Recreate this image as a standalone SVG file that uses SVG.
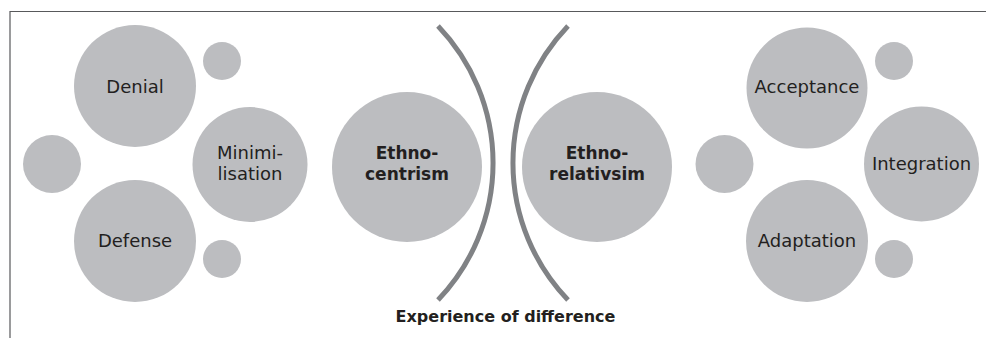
<svg xmlns="http://www.w3.org/2000/svg" width="986" height="338" viewBox="0 0 986 338">
<style>
.c{fill:#bcbdc0}
.t{font-family:"DejaVu Sans",sans-serif;font-size:18px;fill:#231f20;text-anchor:middle}
.b{font-family:"DejaVu Sans",sans-serif;font-weight:bold;font-size:17px;fill:#231f20;text-anchor:middle}
.arc{fill:none;stroke:#808285;stroke-width:5}
</style>
<rect width="986" height="338" fill="#fff"/>
<path d="M10 338 V11.5 H986" fill="none" stroke="#58595b" stroke-width="1.2"/>
<g id="denial"><circle class="c" cx="135" cy="86" r="61"/><text class="t" x="135" y="93">Denial</text></g>
<g id="dot-l1"><circle class="c" cx="222" cy="61" r="19"/></g>
<g id="dot-l2"><circle class="c" cx="52" cy="164" r="29"/></g>
<g id="minimilisation"><circle class="c" cx="250" cy="164.5" r="57.5"/><text class="t" x="250" y="159">Minimi-</text><text class="t" x="250" y="180">lisation</text></g>
<g id="defense"><circle class="c" cx="135" cy="241" r="61"/><text class="t" x="135" y="247">Defense</text></g>
<g id="dot-l3"><circle class="c" cx="222" cy="259" r="19"/></g>
<g id="ethnocentrism"><circle class="c" cx="407" cy="167" r="75"/><text class="b" x="407" y="159">Ethno-</text><text class="b" x="407" y="180">centrism</text></g>
<g id="ethnorelativism"><circle class="c" cx="597" cy="167" r="75"/><text class="b" x="597" y="159">Ethno-</text><text class="b" x="597" y="180">relativsim</text></g>
<g id="acceptance"><circle class="c" cx="807" cy="88" r="60.5"/><text class="t" x="807" y="93">Acceptance</text></g>
<g id="dot-r1"><circle class="c" cx="894" cy="61" r="19"/></g>
<g id="dot-r2"><circle class="c" cx="724.5" cy="164" r="29"/></g>
<g id="integration"><circle class="c" cx="921.5" cy="164" r="57.5"/><text class="t" x="921.5" y="170">Integration</text></g>
<g id="adaptation"><circle class="c" cx="807" cy="241" r="61"/><text class="t" x="807" y="247">Adaptation</text></g>
<g id="dot-r3"><circle class="c" cx="894" cy="259" r="19"/></g>
<g id="connectors">
<path class="arc" d="M438 26 A198 198 0 0 1 438 300"/>
<path class="arc" d="M568 26 A198 198 0 0 0 568 300"/>
</g>
<g id="label"><text class="b" style="font-size:16px" x="505.5" y="321.5">Experience of difference</text></g>
</svg>
